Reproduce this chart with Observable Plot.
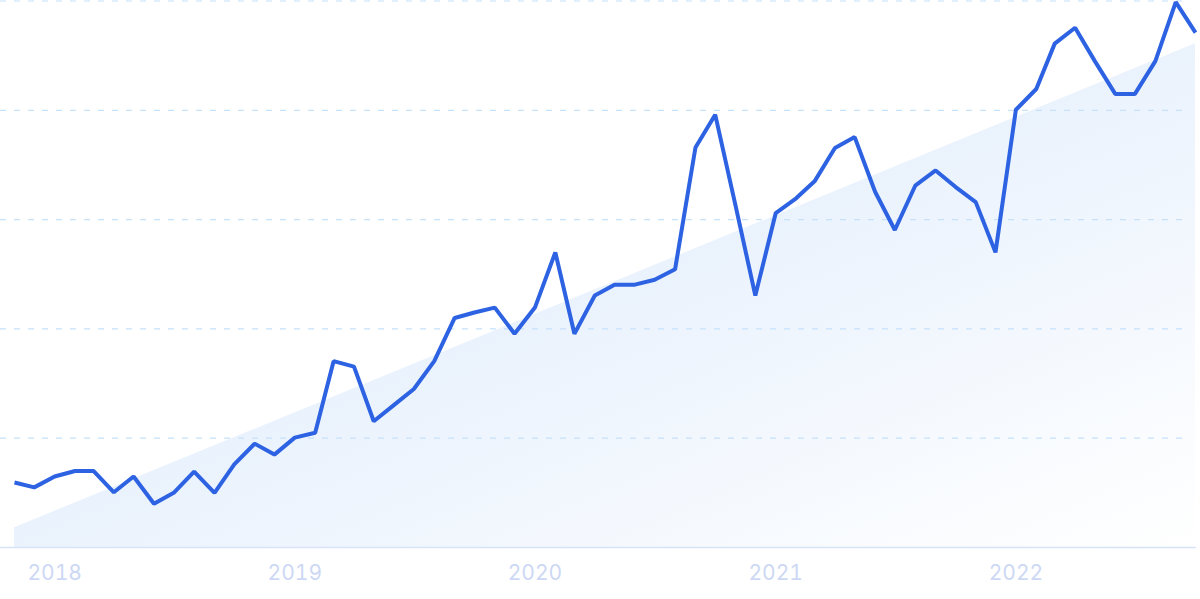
<!DOCTYPE html>
<html>
<head>
<meta charset="utf-8">
<script src="https://cdn.jsdelivr.net/npm/d3@7"></script>
<script src="https://cdn.jsdelivr.net/npm/@observablehq/plot@0.6"></script>
<style>
  html, body { margin: 0; padding: 0; background: #ffffff; }
  #chart svg { display: block; }
</style>
</head>
<body>
<div id="chart"></div>
<script>
const months = [
  "2017-11","2017-12",
  "2018-01","2018-02","2018-03","2018-04","2018-05","2018-06","2018-07","2018-08","2018-09","2018-10","2018-11","2018-12",
  "2019-01","2019-02","2019-03","2019-04","2019-05","2019-06","2019-07","2019-08","2019-09","2019-10","2019-11","2019-12",
  "2020-01","2020-02","2020-03","2020-04","2020-05","2020-06","2020-07","2020-08","2020-09","2020-10","2020-11","2020-12",
  "2021-01","2021-02","2021-03","2021-04","2021-05","2021-06","2021-07","2021-08","2021-09","2021-10","2021-11","2021-12",
  "2022-01","2022-02","2022-03","2022-04","2022-05","2022-06","2022-07","2022-08","2022-09","2022-10"
];
const values = [
  11.9, 11.0,
  13.0, 14.0, 14.0, 10.1, 13.0, 8.0, 10.0, 13.9, 10.0, 15.2, 19.0, 17.0,
  20.1, 21.0, 34.1, 33.1, 23.1, 26.1, 29.0, 34.1, 42.0, 43.0, 43.9, 39.1,
  43.9, 54.0, 39.1, 46.1, 48.1, 48.1, 49.0, 50.9, 73.2, 79.2, 62.5, 46.1,
  61.2, 63.9, 67.0, 73.1, 75.1, 65.1, 58.1, 66.2, 69.0, 66.0, 63.2, 54.0,
  80.1, 83.9, 92.2, 95.1, 89.0, 83.0, 83.0, 89.0, 99.8, 94.2
];
const trendMonths = ["2017-11", "2022-10"];
const trendValues = [3.6, 92.2];
const gridValues = [20, 40, 60, 80, 100];
const yearTicks = ["2018-01", "2019-01", "2020-01", "2021-01", "2022-01"];

const parse = d3.utcParse("%Y-%m");
const series = months.map((m, i) => ({date: parse(m), value: values[i]}));
const trend = trendMonths.map((m, i) => ({date: parse(m), value: trendValues[i]}));
const ticks = yearTicks.map(parse);

const chart = Plot.plot({
  width: 1200,
  height: 599,
  marginLeft: 0,
  marginRight: 0,
  marginTop: 0,
  marginBottom: 52,
  style: {fontFamily: "Inter, 'Noto Sans', sans-serif", background: "#ffffff", overflow: "visible"},
  x: {type: "utc", domain: [parse("2017-11"), parse("2022-10")], range: [14, 1195], axis: null},
  y: {domain: [0, 100], range: [547, 0.5], axis: null},
  marks: [
    Plot.areaY(trend, {x: "date", y: "value", fill: "url(#trendGrad)"}),
    Plot.ruleY(gridValues, {stroke: "#c6e1fb", strokeWidth: 1.2, strokeDasharray: "6,8", insetRight: 12}),
    Plot.ruleY([0], {stroke: "#d7e3f8", strokeWidth: 1.5, insetRight: 4}),
    Plot.line(series, {x: "date", y: "value", stroke: "#2d62e2", strokeWidth: 4, strokeLinejoin: "miter", strokeLinecap: "butt"}),
    Plot.axisX(ticks, {tickFormat: d3.utcFormat("%Y"), tickSize: 0, tickPadding: 18, fontSize: 21, fill: "#cdd8f4", stroke: null})
  ]
});

const svg = d3.select(chart);
const defs = svg.insert("defs", ":first-child");
const grad = defs.append("linearGradient")
  .attr("id", "trendGrad")
  .attr("x1", "0").attr("y1", "0").attr("x2", "1").attr("y2", "1");
grad.append("stop").attr("offset", "0").attr("stop-color", "#d6e6fb");
grad.append("stop").attr("offset", "1").attr("stop-color", "#ffffff");

document.getElementById("chart").appendChild(chart);
</script>
</body>
</html>
